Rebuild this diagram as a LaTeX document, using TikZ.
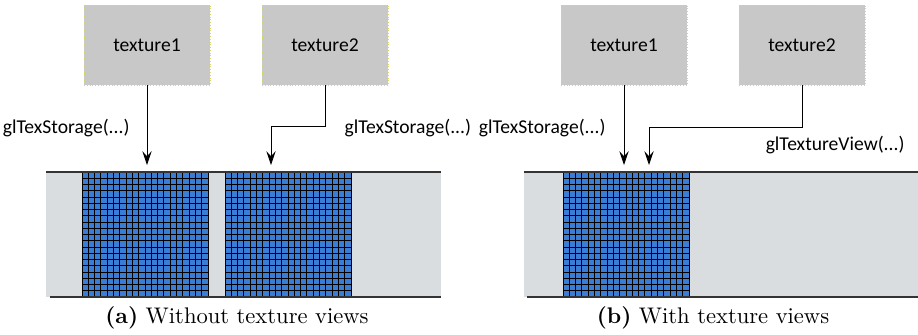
\documentclass[tikz,border=0pt]{standalone}
\usepackage{fontspec}
\usetikzlibrary{arrows.meta}
\newfontfamily\labelfont{Carlito}
\definecolor{texgray}{RGB}{200,200,200}
\definecolor{bandgray}{RGB}{218,221,224}
\definecolor{memblue}{RGB}{58,125,214}
\definecolor{boxedge}{RGB}{215,215,110}

\begin{document}
\begin{tikzpicture}[x=0.165mm, y=0.165mm, >={Stealth[length=6.5pt, width=4.4pt, inset=2.4pt]},
	font=\labelfont\fontsize{9.2}{11}\selectfont,
	texbox/.style={draw=boxedge, densely dotted, line width=0.3pt, fill=texgray,
		minimum width=20.8mm, minimum height=13.2mm, inner sep=0pt},
	caption/.style={font=\rmfamily\fontsize{10.6}{12.5}\selectfont}]
				\useasboundingbox (0,0) rectangle (918,334);
				% Speicherbereich zeichnen
				\fill[bandgray] (46,37) rectangle (441,162);
				\fill[bandgray] (524,37) rectangle (918,162);
				% Texturspeicher (Raster)
				\foreach \bx in {82,225,563} {
					\fill[memblue] (\bx,37) rectangle ++(126,125);
					\draw[line width=0.4pt, xstep=6.3, ystep=6.25, shift={(\bx,37)}] (0,0) grid (126,125);
					\draw[line width=0.4pt] (\bx,37) rectangle ++(126,125);
				}
				% Raender
				\draw[line width=0.5pt, black!80] (46,162) -- (441,162);
				\draw[line width=0.5pt, black!80] (50,37) -- (441,37);
				\draw[line width=0.5pt, black!80] (524,162) -- (918,162);
				\draw[line width=0.5pt, black!80] (527,37) -- (918,37);
				% Texturen
				\node[texbox] (t1a) at (147,289) {texture1};
				\node[texbox] (t2a) at (325,289) {texture2};
				\node[texbox] (t1b) at (624,289) {texture1};
				\node[texbox] (t2b) at (802,289) {texture2};
				% Zielpunkte
				\coordinate (in1a) at (147,169);
				\coordinate (in2a) at (271,169);
				\coordinate (in1b) at (624,169);
				\coordinate (in2b) at (649,169);
				% Pfeile
				\draw[->] (t1a) -- (in1a);
				\draw[->] (t2a.south) -- ++(0,-41) -| (in2a);
				\draw[->] (t1b) -- (in1b);
				\draw[->] (t2b.south) -- ++(0,-42) -| (in2b);
				% Beschriftung
				\node[anchor=east] (l1a) at (137,206) {glTexStorage({.}{.}{.})};
				\node[anchor=west] (l2a) at (337,206) {glTexStorage({.}{.}{.})};
				\node[anchor=east] (l1b) at (613,206) {glTexStorage({.}{.}{.})};
				\node[anchor=east] (l2b) at (912,189) {glTextureView({.}{.}{.})};
				\node[caption] (capa) at (237,16) {\textbf{(a)} Without texture views};
				\node[caption] (capb) at (713,16) {\textbf{(b)} With texture views};
		\end{tikzpicture}
\end{document}
